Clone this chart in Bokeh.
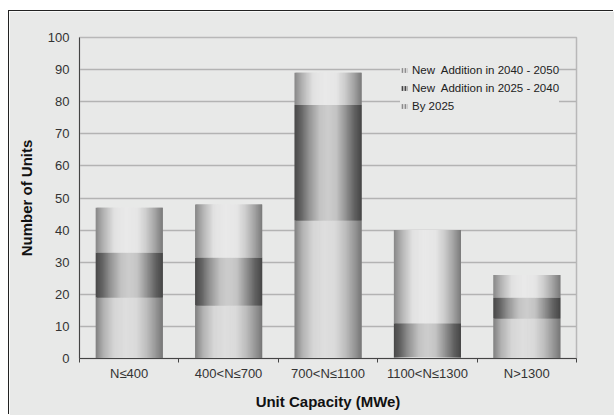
import numpy as np
from bokeh.plotting import figure
from bokeh.models import ColumnDataSource, FixedTicker, Legend, LegendItem
from bokeh.embed import file_html
from bokeh.resources import INLINE

# Number of units by unit capacity class, stacked by commissioning period
categories = ["N≤400", "400<N≤700", "700<N≤1100", "1100<N≤1300", "N>1300"]
by_2025 = [19, 16.5, 43, 0.5, 12.5]
add_2025_2040 = [14, 15, 36, 10.5, 6.5]
add_2040_2050 = [14, 16.5, 10, 29, 7]
series_labels = ["By 2025", "New  Addition in 2025 - 2040", "New  Addition in 2040 - 2050"]
y_ticks = list(range(0, 101, 10))

BG = "#e8e9e8"
FONT = "Liberation Sans"

# Horizontal shading profiles (position across bar, grey level) giving a cylinder look
light_low = ([0.0, 0.12, 0.28, 0.45, 0.6, 0.75, 0.9, 1.0], [128, 178, 214, 222, 218, 192, 150, 118])
dark_mid = ([0.0, 0.1, 0.22, 0.38, 0.5, 0.62, 0.76, 0.9, 1.0], [72, 100, 148, 195, 205, 196, 148, 96, 70])
light_top = ([0.0, 0.12, 0.28, 0.45, 0.62, 0.75, 0.88, 1.0], [135, 180, 226, 233, 230, 205, 165, 122])
profiles = [light_low, dark_mid, light_top]

N_STRIPS = 60
bar_width = 0.675

p = figure(width=605, height=404, x_range=(0, len(categories)), y_range=(0, 100),
           output_backend="svg", toolbar_location=None,
           background_fill_color=BG, border_fill_color=BG,
           min_border_left=70, min_border_right=38, min_border_top=26, min_border_bottom=57)
p.margin = (11, 0, 0, 9)
p.styles = {"box-shadow": "-1px -1px 0 0 #222"}
p.outline_line_color = "#b8b8b8"
p.outline_line_width = 1.5

centers = [i + 0.5 for i in range(len(categories))]
base = np.zeros(len(categories))
for values, (pos, lev) in zip([by_2025, add_2025_2040, add_2040_2050], profiles):
    vals = np.array(values, dtype=float)
    data = dict(left=[], right=[], bottom=[], top=[], color=[])
    step = bar_width / N_STRIPS
    for c, b, v in zip(centers, base, vals):
        for j in range(N_STRIPS):
            x0 = c - bar_width / 2 + j * step
            g = int(round(np.interp((j + 0.5) / N_STRIPS, pos, lev)))
            # each strip overlaps the next one so no seams show between them
            x1 = x0 + (2 * step if j < N_STRIPS - 1 else step)
            data["left"].append(x0)
            data["right"].append(x1)
            data["bottom"].append(b)
            data["top"].append(b + v)
            data["color"].append(f"#{g:02x}{g:02x}{g:02x}")
    p.quad(left="left", right="right", bottom="bottom", top="top",
           fill_color="color", line_color=None, source=ColumnDataSource(data))
    base += vals

# Small striped swatches for the legend (zero-height bars, nothing drawn in the plot)
swatch_styles = [("#d2d2d2", "#8a8a8a"), ("#b5b5b5", "#444444"), ("#d6d6d6", "#8e8e8e")]
swatches = []
for fill, hatch in swatch_styles:
    r = p.vbar(x=centers, top=0, bottom=0, width=0.5, fill_color=fill, line_color=None,
               hatch_pattern="|", hatch_color=hatch, hatch_scale=3, hatch_weight=1.5)
    swatches.append(r)

legend = Legend(items=[LegendItem(label=series_labels[i], renderers=[swatches[i]]) for i in (2, 1, 0)],
                location=(321, 245), orientation="vertical",
                glyph_width=8, glyph_height=6, label_standoff=4, label_height=15, spacing=3,
                padding=5, margin=0, background_fill_color=BG, background_fill_alpha=1,
                border_line_color=None, label_text_font=FONT, label_text_font_size="11.5px",
                label_text_color="#222")
p.add_layout(legend, "center")

# Grid
p.ygrid.ticker = FixedTicker(ticks=y_ticks)
p.ygrid.grid_line_color = "#b3b3b3"
p.ygrid.grid_line_width = 1.3
p.xgrid.grid_line_color = None

# Y axis
p.yaxis.ticker = FixedTicker(ticks=y_ticks)
p.yaxis.axis_label = "Number of Units"
p.yaxis.major_tick_in = 0
p.yaxis.major_tick_out = 4
p.yaxis.minor_tick_line_color = None
p.yaxis.major_label_standoff = 6
p.yaxis.axis_label_standoff = 10

# X axis: labels at category centres, ticks at category boundaries
p.xaxis.ticker = FixedTicker(ticks=centers, minor_ticks=list(range(len(categories) + 1)))
p.xaxis.major_label_overrides = {c: lab for c, lab in zip(centers, categories)}
p.xaxis.axis_label = "Unit Capacity (MWe)"
p.xaxis.minor_tick_in = 0
p.xaxis.minor_tick_out = 4
p.xaxis.minor_tick_line_color = "#444444"
p.xaxis.major_label_standoff = 1
p.xaxis.axis_label_standoff = 9

for ax in (p.xaxis, p.yaxis):
    ax.axis_line_color = "#444444"
    ax.major_tick_line_color = "#444444" if ax is p.yaxis else None
    ax.major_label_text_font = FONT
    ax.major_label_text_font_size = "13px"
    ax.major_label_text_color = "#333333"
    ax.axis_label_text_font = FONT
    ax.axis_label_text_font_size = "15px"
    ax.axis_label_text_font_style = "bold"
    ax.axis_label_text_color = "#111111"

open("out.html", "w").write(file_html(p, INLINE))
